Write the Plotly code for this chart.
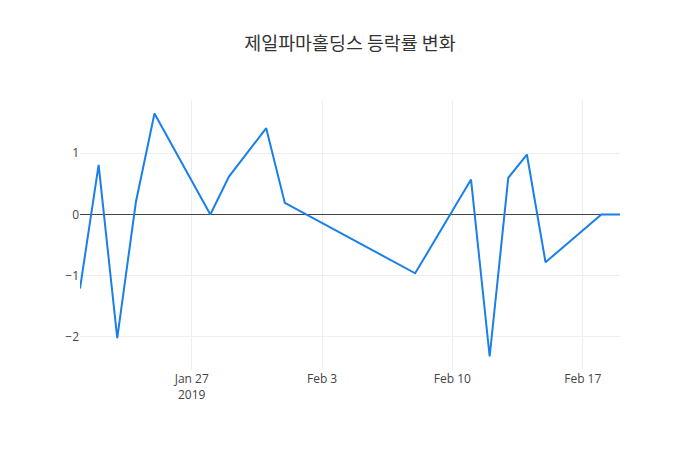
import plotly.graph_objects as go

dates = ["2019-01-21", "2019-01-22", "2019-01-23", "2019-01-24", "2019-01-25",
         "2019-01-28", "2019-01-29", "2019-01-31", "2019-02-01", "2019-02-08",
         "2019-02-11", "2019-02-12", "2019-02-13", "2019-02-14", "2019-02-15",
         "2019-02-18", "2019-02-19"]
changes = [-1.21, 0.81, -2.02, 0.20, 1.65,
           0.0, 0.62, 1.41, 0.19, -0.96,
           0.57, -2.32, 0.60, 0.98, -0.78,
           0.0, 0.0]

fig = go.Figure(go.Scatter(x=dates, y=changes, mode="lines",
                           line=dict(color="#1a7fe8", width=2)))
fig.update_layout(
    template="none",
    width=700, height=450,
    title=dict(text="제일파마홀딩스 등락률 변화", x=0.5,
               font=dict(family="Noto Sans CJK KR", size=18.4, color="#333")),
    font=dict(family="Open Sans, verdana, arial, sans-serif", size=12, color="#444"),
    xaxis=dict(showgrid=True, gridcolor="#eee", zeroline=False, ticks="", dtick=7*86400000, tick0="2019-01-27"),
    yaxis=dict(showgrid=True, gridcolor="#eee", zeroline=True, zerolinecolor="#444", zerolinewidth=1, ticks="", dtick=1),
    margin=dict(l=80, r=80, t=100, b=80),
    showlegend=False,
)
fig.write_html("out.html")
